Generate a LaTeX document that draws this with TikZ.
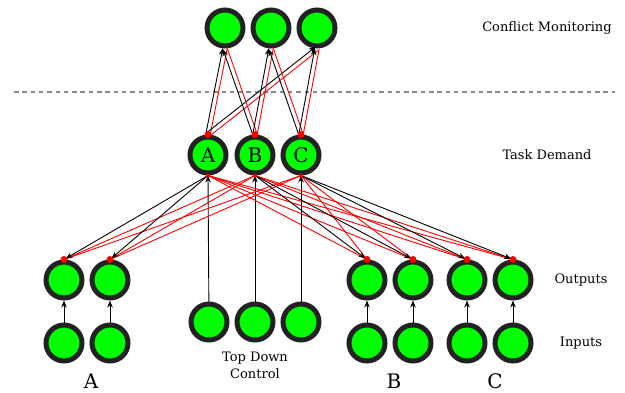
\documentclass[tikz,border=0pt]{standalone}
\usepackage{fontspec}
\setmainfont{DejaVu Serif}
\usetikzlibrary{arrows.meta,calc}

\definecolor{ringgray}{HTML}{222222}
\definecolor{cellgreen}{HTML}{00FF00}
\definecolor{splitgray}{HTML}{8A8A8A}

\tikzset{
  unit/.style={circle,draw=ringgray,fill=cellgreen,line width=5pt,minimum size=36pt,inner sep=0pt},
  excite/.style={black,line width=0.9pt,-{Stealth[length=7pt,width=5.5pt]}},
  inhibit/.style={red,line width=0.9pt},
  blob/.style={circle,fill=red,inner sep=0pt,minimum size=7pt},
  lbl/.style={font=\fontsize{13}{17}\selectfont},
  biglbl/.style={font=\fontsize{20}{20}\selectfont}
}

\begin{document}
\begin{tikzpicture}[x=1pt,y=-1pt]
\useasboundingbox (0,0) rectangle (625,392);

% Conflict monitoring layer
\node[unit] (cm1) at (225,28) {};
\node[unit] (cm2) at (271,28) {};
\node[unit] (cm3) at (317,28) {};
\draw[splitgray,line width=2.8pt,dash pattern=on 4.5pt off 3.8pt] (14,92) -- (615,92);

% Task demand layer
\node[unit,biglbl] (A) at (208,155) {A};
\node[unit,biglbl] (B) at (255,155) {B};
\node[unit,biglbl] (C) at (301,155) {C};

% Outputs and inputs
\foreach \g/\x in {a1/64,a2/110,b1/367,b2/413,c1/467,c2/513} {
  \node[unit] (out\g) at (\x,280) {};
  \node[unit] (in\g) at (\x,343) {};
  \draw[excite] (in\g) -- (out\g);
}

% Top down control
\foreach \t/\x in {A/209,B/255,C/301} {
  \node[unit] (td\t) at (\x,322) {};
  \draw[excite] (td\t) -- (\t.south);
}

% Task demand -> outputs
\foreach \t/\g in {B/a,C/a,A/b,C/b,A/c,B/c} {
  \foreach \k in {1,2}
    \draw[inhibit] (\t.south) -- (out\g\k.north);
}
\foreach \t/\g in {A/a,B/b,C/c} {
  \foreach \k in {1,2}
    \draw[excite,shorten >=2pt] (\t.south) -- (out\g\k.north);
}

% Task demand <-> conflict monitoring
\foreach \t/\c in {A/cm1,A/cm3,B/cm1,B/cm2,C/cm2,C/cm3} {
  \draw[inhibit] ($(\t.north)!2.2pt!-90:(\c.south)$) -- ($(\c.south)!2.2pt!90:(\t.north)$);
  \draw[excite] ($(\t.north)!2.2pt!90:(\c.south)$) -- ($(\c.south)!2.2pt!-90:(\t.north)$);
}

% Red contact dots
\foreach \t in {A,B,C} {
  \node[blob] (top\t) at (\t.north) {};
  \node[blob,minimum size=4pt] (bot\t) at (\t.south) {};
}
\foreach \g in {a1,a2,b1,b2,c1,c2}
  \node[blob] (dot\g) at (out\g.north) {};

% Labels
\node[lbl] (cmtext) at (547,28) {Conflict Monitoring};
\node[lbl] (tasktext) at (547,155) {Task Demand};
\node[lbl] (outtext) at (581,280) {Outputs};
\node[lbl] (intext) at (581,343) {Inputs};
\node[lbl,align=center] (tdtext) at (255,365) {Top Down\\Control};
\node[biglbl] (grpA) at (91,381) {A};
\node[biglbl] (grpB) at (394,381) {B};
\node[biglbl] (grpC) at (495,381) {C};
\end{tikzpicture}
\end{document}
